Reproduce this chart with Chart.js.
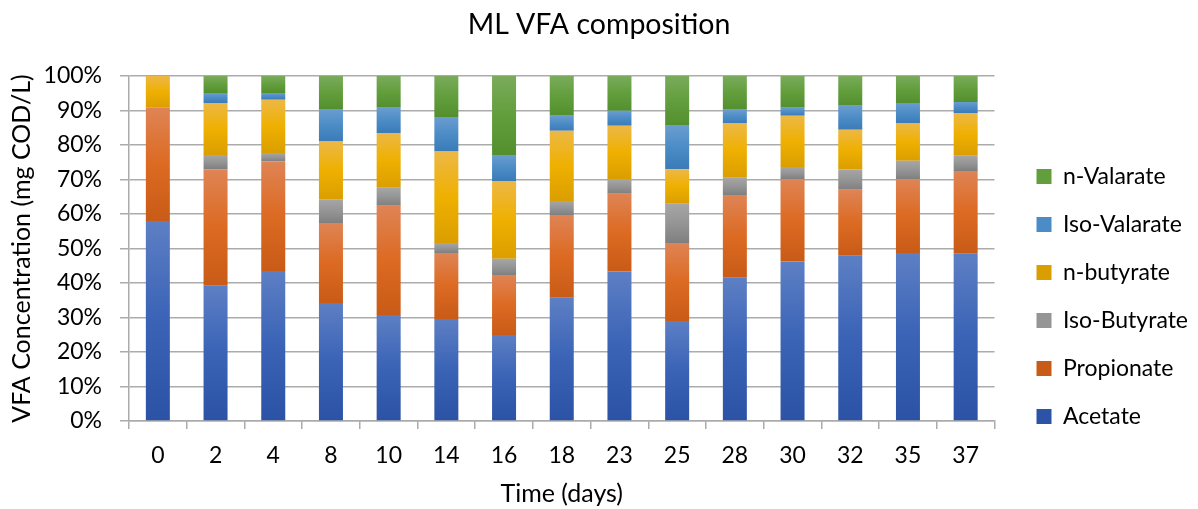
<!DOCTYPE html>
<html>
<head>
<meta charset="utf-8">
<title>ML VFA composition</title>
<script src="https://cdn.jsdelivr.net/npm/chart.js@4.4.1/dist/chart.umd.min.js"></script>
<style>
  html, body { margin: 0; padding: 0; background: #fff; }
  #wrap { width: 1198px; height: 509px; }
</style>
</head>
<body>
<div id="wrap"><canvas id="myChart" width="1198" height="509"></canvas></div>
<script>
// share of each acid in total VFA (%), one value per sampling day
const days = ['0', '2', '4', '8', '10', '14', '16', '18', '23', '25', '28', '30', '32', '35', '37']
const acetate      = [58.0, 39.2, 43.5, 34.2, 30.7, 29.6, 24.9, 35.7, 43.3, 29.0, 41.5, 46.2, 47.9, 48.7, 48.5]
const propionate   = [32.8, 33.8, 31.7, 23.2, 31.7, 19.1, 17.4, 24.0, 22.6, 22.6, 24.0, 23.9, 19.1, 21.4, 24.0]
const iso_butyrate = [0.0, 4.1, 2.5, 6.9, 5.2, 2.9, 4.7, 4.1, 4.2, 11.4, 5.0, 3.5, 5.9, 5.3, 4.4]
const n_butyrate   = [9.2, 15.1, 15.4, 16.7, 15.9, 26.5, 22.6, 20.3, 15.5, 10.0, 15.7, 14.9, 11.5, 10.8, 12.4]
const iso_valarate = [0.0, 2.9, 2.0, 9.4, 7.3, 10.0, 7.5, 4.4, 4.3, 12.6, 4.0, 2.3, 7.0, 6.0, 3.2]
const n_valarate   = [0.0, 4.9, 4.9, 9.6, 9.2, 11.9, 22.9, 11.5, 10.1, 14.4, 9.8, 9.2, 8.6, 7.8, 7.5]
const y_ticks = [0, 10, 20, 30, 40, 50, 60, 70, 80, 90, 100]

// light / base / dark shade for each series, top to bottom of a segment
const shades = {
    acetate:      ['#5d7fc4', '#3a63b6', '#2b52a4'],
    propionate:   ['#df8455', '#dc6a22', '#c85b17'],
    iso_butyrate: ['#a6a6a6', '#959595', '#7f7f7f'],
    n_butyrate:   ['#ecb846', '#efb000', '#da9e00'],
    iso_valarate: ['#6a9dd0', '#4c8cc6', '#3a7bb8'],
    n_valarate:   ['#7aab5c', '#629e3c', '#548f2f']
}

const text_color = '#000000'
const line_color = '#ababab'

Chart.defaults.font.family = 'Lato, "Open Sans", sans-serif'
Chart.defaults.color = text_color

function segment_fill(shade){
    return (context) => {
        if (context.type !== 'data') return shade[1]
        const chart = context.chart
        const y = chart.scales.y
        if (!y) return shade[1]

        let base = 0
        for (let i = 0; i < context.datasetIndex; i++){
            base += chart.data.datasets[i].data[context.dataIndex]
        }
        const top_px = y.getPixelForValue(base + context.raw)
        const base_px = y.getPixelForValue(base)
        if (!isFinite(top_px) || !isFinite(base_px) || top_px === base_px) return shade[1]

        const gradient = chart.ctx.createLinearGradient(0, top_px, 0, base_px)
        gradient.addColorStop(0, shade[0])
        gradient.addColorStop(0.5, shade[1])
        gradient.addColorStop(1, shade[2])
        return gradient
    }
}

function make_dataset(label, values, shade){
    return {
        label: label,
        data: values,
        yAxisID: 'y',
        backgroundColor: segment_fill(shade),
        borderWidth: 0,
        barPercentage: 1,
        categoryPercentage: 0.416
    }
}

const datasets = [
    make_dataset('Acetate', acetate, shades.acetate),
    make_dataset('Propionate', propionate, shades.propionate),
    make_dataset('Iso-Butyrate', iso_butyrate, shades.iso_butyrate),
    make_dataset('n-butyrate', n_butyrate, shades.n_butyrate),
    make_dataset('Iso-Valarate', iso_valarate, shades.iso_valarate),
    make_dataset('n-Valarate', n_valarate, shades.n_valarate)
]

const config = {
    type: 'bar',
    data: { labels: days, datasets: datasets },
    options: {
        responsive: false,
        animation: false,
        devicePixelRatio: 1,
        layout: { padding: 0 },
        plugins: {
            title: {
                display: true,
                text: 'ML VFA composition',
                color: text_color,
                font: { size: 28.5, weight: 'normal' },
                padding: { top: 7.4, bottom: 34.4 }
            },
            legend: {
                position: 'right',
                align: 'start',
                reverse: true,
                title: { display: true, text: '', padding: { top: 125.6, bottom: 0 } },
                labels: {
                    boxWidth: 15,
                    boxHeight: 15,
                    padding: 25,
                    color: text_color,
                    font: { size: 23 }
                }
            },
            tooltip: { enabled: false }
        },
        scales: {
            x: {
                stacked: true,
                grid: {
                    offset: true,
                    drawOnChartArea: false,
                    tickLength: 8,
                    color: line_color,
                    lineWidth: 1.5
                },
                border: { color: line_color, width: 1.5 },
                ticks: { padding: 13, color: text_color, font: { size: 23 } },
                title: {
                    display: true,
                    text: 'Time (days)',
                    color: text_color,
                    font: { size: 25 },
                    padding: { top: 0, bottom: 0 }
                },
                afterFit: (scale) => { scale.height = 88 }
            },
            y: {
                stacked: true,
                min: 0,
                max: 100,
                afterBuildTicks: (scale) => { scale.ticks = y_ticks.map((v) => ({ value: v })) },
                grid: {
                    tickLength: 9,
                    color: line_color,
                    lineWidth: 1.5
                },
                border: { color: line_color, width: 1.5 },
                ticks: {
                    padding: 18,
                    color: text_color,
                    font: { size: 23 },
                    callback: (value) => value + '%'
                },
                title: {
                    display: true,
                    text: 'VFA Concentration (mg COD/L)',
                    color: text_color,
                    font: { size: 25 },
                    padding: { top: 7, bottom: 0 }
                },
                afterFit: (scale) => { scale.width = 129 }
            },
            // empty strip between the plot and the legend
            gap: {
                type: 'linear',
                position: 'right',
                display: true,
                grid: { display: false },
                border: { display: false },
                ticks: { display: false },
                afterFit: (scale) => { scale.width = 17 }
            }
        }
    }
}

const my_chart = new Chart(document.getElementById('myChart'), config)
</script>
</body>
</html>
